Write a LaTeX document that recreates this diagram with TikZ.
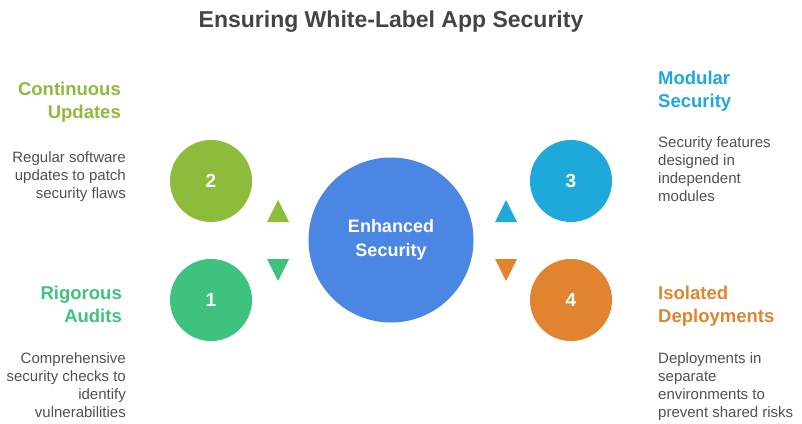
\documentclass[tikz,border=0pt]{standalone}
\usepackage{fontspec}
\setmainfont{Liberation Sans}
\usetikzlibrary{positioning}

\definecolor{titlegray}{HTML}{444444}
\definecolor{blurbgray}{HTML}{505050}
\definecolor{hubblue}{HTML}{4A86E2}
\definecolor{updgreen}{HTML}{8DBB3C}
\definecolor{auditgreen}{HTML}{3EC27F}
\definecolor{modblue}{HTML}{1FA8DA}
\definecolor{isoorange}{HTML}{E08430}

\tikzset{
    hub/.style={circle, minimum size=165pt, inner sep=0, fill=hubblue, text=white, align=center, font=\fontsize{18}{24}\selectfont\bfseries},
    numdisc/.style={circle, minimum size=82pt, inner sep=0, text=white, font=\fontsize{19}{24}\selectfont\bfseries},
    heading/.style={inner sep=0, font=\fontsize{18.5}{23}\selectfont\bfseries},
    blurb/.style={inner sep=0, text=blurbgray, font=\fontsize{15}{18}\selectfont},
}

\begin{document}
\begin{tikzpicture}[x=1pt, y=-1pt]
    \useasboundingbox (0,0) rectangle (802,423);

    \node [text=titlegray, font=\fontsize{23}{26}\selectfont\bfseries] (title) at (391,22) {Ensuring White-Label App Security};

    % centre and the four numbered discs
    \node [hub] (enhanced) at (391,240) {Enhanced\\[-0.5pt]Security};
    \node [numdisc, fill=auditgreen] (disc_one) at (211,300) {1};
    \node [numdisc, fill=updgreen] (disc_two) at (211,181) {2};
    \node [numdisc, fill=modblue] (disc_three) at (571,181) {3};
    \node [numdisc, fill=isoorange] (disc_four) at (571,300) {4};

    % small pointers between the discs and the centre
    \coordinate (tri_two) at (278,211);
    \coordinate (tri_one) at (278,270);
    \coordinate (tri_three) at (506,211);
    \coordinate (tri_four) at (506,270);
    \fill [updgreen] (tri_two) ++(-11,11) -- ++(22,0) -- ++(-11,-22) -- cycle;
    \fill [auditgreen] (tri_one) ++(-11,-11) -- ++(22,0) -- ++(-11,22) -- cycle;
    \fill [modblue] (tri_three) ++(-11,11) -- ++(22,0) -- ++(-11,-22) -- cycle;
    \fill [isoorange] (tri_four) ++(-11,-11) -- ++(22,0) -- ++(-11,22) -- cycle;

    % left side
    \node [heading, text=updgreen, align=right, anchor=north east] (upd_head) at (121,82) {Continuous\\Updates};
    \node [blurb, align=right, anchor=north east] (upd_text) at (126,151) {Regular software\\updates to patch\\security flaws};
    \node [heading, text=auditgreen, align=right, anchor=north east] (audit_head) at (122,286) {Rigorous\\Audits};
    \node [blurb, align=right, anchor=north east] (audit_text) at (126,352) {Comprehensive\\security checks to\\identify\\vulnerabilities};

    % right side
    \node [heading, text=modblue, align=left, anchor=north west] (mod_head) at (658,71) {Modular\\Security};
    \node [blurb, align=left, anchor=north west] (mod_text) at (658,136) {Security features\\designed in\\independent\\modules};
    \node [heading, text=isoorange, align=left, anchor=north west] (iso_head) at (658,286) {Isolated\\Deployments};
    \node [blurb, align=left, anchor=north west] (iso_text) at (658,352) {Deployments in\\separate\\environments to\\prevent shared risks};
\end{tikzpicture}
\end{document}
